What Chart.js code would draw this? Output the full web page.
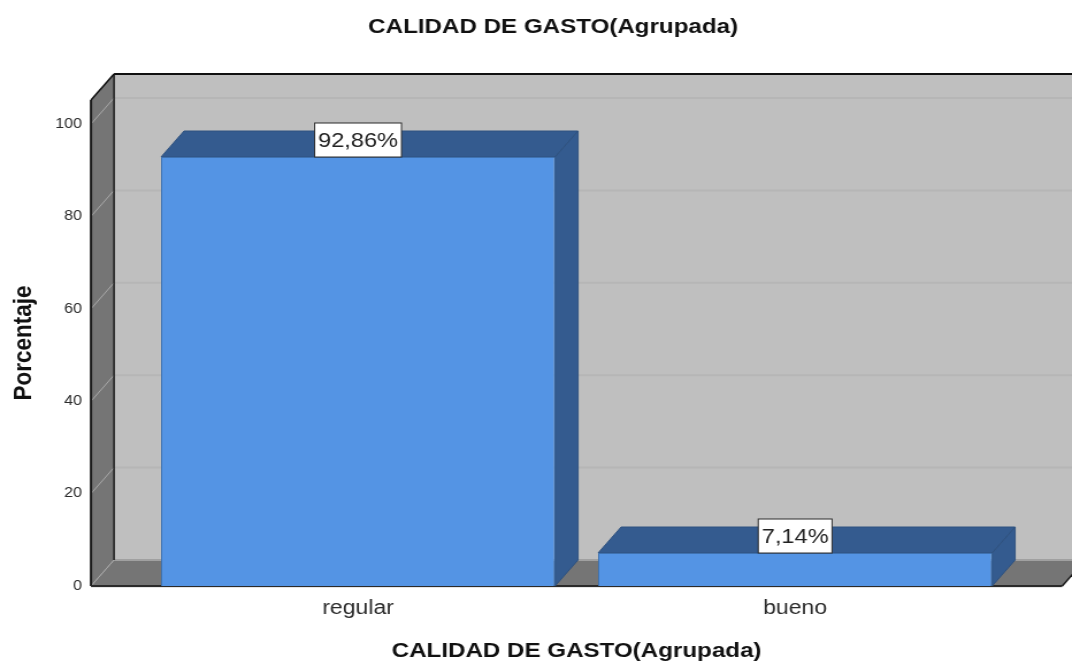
<!DOCTYPE html>
<html>
<head>
<meta charset="utf-8">
<style>
  html, body { margin: 0; padding: 0; background: #fff; overflow: hidden; }
  /* the reference picture is stretched sideways, text included */
  #grafico { position: absolute; left: 0; top: 0; transform-origin: 0 0; transform: scaleX(1.1502); }
</style>
<script src="https://cdn.jsdelivr.net/npm/chart.js@4"></script>
</head>
<body>
<canvas id="grafico" width="932" height="662"></canvas>
<script>
const categorias = ['regular', 'bueno'];
const porcentajes = [92.86, 7.14];
const marcasY = [0, 20, 40, 60, 80, 100];
const tituloGrafico = 'CALIDAD DE GASTO(Agrupada)';
const tituloX = 'CALIDAD DE GASTO(Agrupada)';
const tituloY = 'Porcentaje';

const FUENTE = '"Liberation Sans", Arial, sans-serif';
const FONDO_X = 20, FONDO_Y = 26;   // depth of the 3d box
const MARGEN_X = 42.2;              // walls stick out past the category band

function poli(ctx, puntos, relleno, linea, grosor) {
	ctx.beginPath();
	puntos.forEach((p, i) => i ? ctx.lineTo(p[0], p[1]) : ctx.moveTo(p[0], p[1]));
	ctx.closePath();
	if (relleno) { ctx.fillStyle = relleno; ctx.fill(); }
	if (linea) { ctx.strokeStyle = linea; ctx.lineWidth = grosor || 1; ctx.stroke(); }
}

function linea(ctx, x1, y1, x2, y2, color, grosor) {
	ctx.beginPath();
	ctx.moveTo(x1, y1);
	ctx.lineTo(x2, y2);
	ctx.strokeStyle = color;
	ctx.lineWidth = grosor;
	ctx.stroke();
}

const caja3d = {
	id: 'caja3d',
	afterLayout(chart) {
		// tick labels sit far from the band, keep them out of the scale's clip box
		chart.scales.y.left = 0;
	},
	beforeDatasetsDraw(chart) {
		const ctx = chart.ctx, a = chart.chartArea, y = chart.scales.y;
		const izq = a.left - MARGEN_X, der = a.right + MARGEN_X;
		const arriba = a.top, abajo = y.getPixelForValue(0);
		ctx.save();
		// back wall, left wall, floor
		poli(ctx, [[izq + FONDO_X, arriba - FONDO_Y], [der + FONDO_X, arriba - FONDO_Y], [der + FONDO_X, abajo - FONDO_Y], [izq + FONDO_X, abajo - FONDO_Y]], '#bfbfbf');
		poli(ctx, [[izq, arriba], [izq + FONDO_X, arriba - FONDO_Y], [izq + FONDO_X, abajo - FONDO_Y], [izq, abajo]], '#757575');
		poli(ctx, [[izq, abajo], [izq + FONDO_X, abajo - FONDO_Y], [der + FONDO_X, abajo - FONDO_Y], [der, abajo]], '#757575');
		// gridlines run along the left wall and the back wall
		marcasY.forEach(v => {
			const py = y.getPixelForValue(v);
			linea(ctx, izq, py, izq + FONDO_X, py - FONDO_Y, '#a9a9a9', 1);
			linea(ctx, izq + FONDO_X, py - FONDO_Y, der + FONDO_X, py - FONDO_Y, v === 0 ? '#a0a0a0' : '#b6b6b6', 2);
		});
		// dark edges
		linea(ctx, izq, abajo + 1, der, abajo + 1, '#dddddd', 1.5);
		linea(ctx, izq, arriba, izq, abajo, '#1c1c1c', 2);
		linea(ctx, izq + FONDO_X, arriba - FONDO_Y, izq + FONDO_X, abajo - FONDO_Y, '#1c1c1c', 1.5);
		linea(ctx, izq, arriba, izq + FONDO_X, arriba - FONDO_Y, '#111111', 1.5);
		linea(ctx, izq + FONDO_X, arriba - FONDO_Y, der + FONDO_X, arriba - FONDO_Y, '#111111', 2);
		linea(ctx, izq, abajo, der, abajo, '#2a2a2a', 2);
		linea(ctx, der, abajo, der + FONDO_X, abajo - FONDO_Y, '#1c1c1c', 1.5);
		// top and side of every bar
		chart.getDatasetMeta(0).data.forEach(b => {
			const x1 = b.x - b.width / 2, x2 = b.x + b.width / 2;
			poli(ctx, [[x1, b.y], [x1 + FONDO_X, b.y - FONDO_Y], [x2 + FONDO_X, b.y - FONDO_Y], [x2, b.y]], '#345b8f', '#2f5280');
			poli(ctx, [[x2, b.y], [x2 + FONDO_X, b.y - FONDO_Y], [x2 + FONDO_X, b.base - FONDO_Y], [x2, b.base]], '#345b8f', '#2f5280');
		});
		ctx.restore();
	},
	afterDatasetsDraw(chart) {
		const ctx = chart.ctx;
		ctx.save();
		// value boxes sit on the front edge of the bar
		ctx.font = '20.5px ' + FUENTE;
		ctx.textAlign = 'center';
		ctx.textBaseline = 'middle';
		chart.getDatasetMeta(0).data.forEach((b, i) => {
			const texto = porcentajes[i].toFixed(2).replace('.', ',') + '%';
			const ancho = ctx.measureText(texto).width + 6;
			ctx.fillStyle = '#ffffff';
			ctx.strokeStyle = '#2b2b2b';
			ctx.lineWidth = 1;
			ctx.fillRect(b.x - ancho / 2, b.y - 34, ancho, 34);
			ctx.strokeRect(b.x - ancho / 2, b.y - 34, ancho, 34);
			ctx.fillStyle = '#222222';
			ctx.fillText(texto, b.x, b.y - 16);
		});
		ctx.restore();
	}
};

new Chart(document.getElementById('grafico').getContext('2d'), {
	type: 'bar',
	data: {
		labels: categorias,
		datasets: [{
			data: porcentajes,
			backgroundColor: '#5494e4',
			borderColor: '#3f72b0',
			borderWidth: 1,
			categoryPercentage: 1,
			barPercentage: 0.9016
		}]
	},
	plugins: [caja3d],
	options: {
		responsive: false,
		animation: false,
		devicePixelRatio: 1,
		layout: { padding: { left: 80.5, right: 50.7, top: 0, bottom: 0 } },
		plugins: {
			legend: { display: false },
			tooltip: { enabled: false },
			title: {
				display: true,
				text: tituloGrafico,
				color: '#111111',
				font: { family: FUENTE, size: 21, weight: 'bold', lineHeight: 1.2 },
				padding: { top: 15, bottom: 59.8 }
			}
		},
		scales: {
			x: {
				afterFit(scale) { scale.height = 76; },
				grid: { display: false },
				border: { display: false },
				ticks: { color: '#2b2b2b', padding: 2, maxRotation: 0, font: { family: FUENTE, size: 20 } },
				title: {
					display: true,
					text: tituloX,
					color: '#111111',
					font: { family: FUENTE, size: 21, weight: 'bold', lineHeight: 1.2 },
					padding: { top: 0, bottom: -2 }
				}
			},
			y: {
				min: 0,
				max: 105.2,
				afterFit(scale) { scale.width = 40.8; },
				afterBuildTicks(scale) { scale.ticks = marcasY.map(v => ({ value: v })); },
				grid: { display: false },
				border: { display: false },
				ticks: { color: '#2b2b2b', padding: 42, font: { family: FUENTE, size: 14 } },
				title: {
					display: true,
					text: tituloY,
					color: '#111111',
					font: { family: FUENTE, size: 22.5, weight: 'bold', lineHeight: 1.2 },
					padding: { top: 7.2, bottom: 0 }
				}
			}
		}
	}
});
</script>
</body>
</html>
